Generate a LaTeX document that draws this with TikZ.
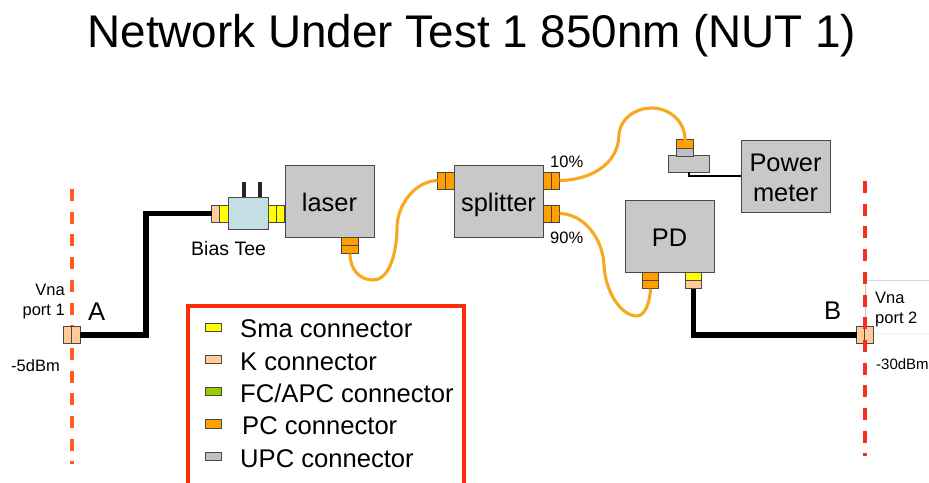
\documentclass[tikz,border=0pt]{standalone}
\usepackage{fontspec}
\setmainfont{Liberation Sans}
\definecolor{smacol}{HTML}{FFFF00}
\definecolor{kcol}{HTML}{FFCC99}
\definecolor{fccol}{HTML}{99CC00}
\definecolor{pccol}{HTML}{FFA000}
\definecolor{upccol}{HTML}{C0C0C0}
\definecolor{boxcol}{HTML}{C8C8C8}
\definecolor{teecol}{HTML}{C4DFE3}
\definecolor{edgecol}{HTML}{484848}
\definecolor{fibercol}{HTML}{F8A81C}
\definecolor{planeacol}{HTML}{FF5A26}
\definecolor{planebcol}{HTML}{F5301E}
\definecolor{framecol}{HTML}{FF2C08}
\tikzset{
    box/.style={draw=edgecol, line width=1pt, fill=boxcol, inner sep=0pt, outer sep=0pt, minimum width=89pt, minimum height=72pt, font=\fontsize{25.4}{30}\selectfont, align=center},
    onetext/.style={text height=20pt, text depth=0pt},
    hside/.style={draw=edgecol, line width=1pt, inner sep=0pt, outer sep=0pt, minimum width=8.3pt, minimum height=17pt},
    vside/.style={draw=edgecol, line width=1pt, inner sep=0pt, outer sep=0pt, minimum width=16.5pt, minimum height=8.3pt},
    swatch/.style={draw=edgecol, line width=1pt, inner sep=0pt, outer sep=0pt, minimum width=16pt, minimum height=8.5pt},
    coax/.style={line width=5.5pt, black},
    fiber/.style={line width=3.1pt, fibercol},
    plane/.style={line width=3.4pt, dash pattern=on 12pt off 10.7pt},
    small/.style={font=\fontsize{16.5}{20}\selectfont, inner sep=0pt, anchor=base west},
    big/.style={font=\fontsize{25.6}{30}\selectfont, inner sep=0pt, anchor=base west}
}
\begin{document}
\begin{tikzpicture}[x=1pt, y=-1pt]
    \useasboundingbox (0,0) rectangle (929,482);

    % Title
    \node[font=\fontsize{45.8}{50}\selectfont, inner sep=0pt, anchor=base] (title) at (472,47) {Network Under Test 1 850nm (NUT 1)};

    % Faint lines at port 2
    \draw[black!15] (865,280) -- (929,280);
    \draw[black!5] (865,333) -- (929,333);
    \draw[black!25] (865,280) -- (865,333);

    % Boxes
    \node[box, onetext] (laser) at (329.5,201) {laser};
    \node[box, onetext] (splitter) at (498.5,201) {splitter};
    \node[box, onetext] (pd) at (669.5,236) {PD};
    \node[box] (meter) at (785.5,176) {\rule{0pt}{21pt}Power\\meter};
    \node[draw=edgecol, line width=1pt, fill=teecol, inner sep=0pt, outer sep=0pt, minimum width=40pt, minimum height=32pt] (tee) at (248,213) {};

    % Bias leads
    \coordinate (leada) at (244,182);
    \coordinate (leadb) at (260,182);
    \draw[line width=3.2pt, black!85] (leada) -- (leada |- tee.north);
    \draw[line width=3.2pt, black!85] (leadb) -- (leadb |- tee.north);

    % Connectors
    \node[hside, fill=smacol] (teesma) at (224,213.5) {};
    \node[hside, fill=kcol] (teek) at (215.7,213.5) {};
    \node[hside, fill=smacol] (teeout) at (272.2,213.5) {};
    \node[hside, fill=smacol] (laserin) at (280.5,213.5) {};
    \node[vside, fill=pccol] (laserpca) at (350,241.2) {};
    \node[vside, fill=pccol] (laserpcb) at (350,249.4) {};
    \node[hside, fill=pccol] (splitina) at (449.9,180.5) {};
    \node[hside, fill=pccol] (splitinb) at (441.7,180.5) {};
    \node[hside, fill=pccol] (tena) at (547.2,180.5) {};
    \node[hside, fill=pccol] (tenb) at (555.4,180.5) {};
    \node[hside, fill=pccol] (ninea) at (547.2,213.5) {};
    \node[hside, fill=pccol] (nineb) at (555.4,213.5) {};
    \node[vside, fill=pccol] (pdpca) at (650.5,276.2) {};
    \node[vside, fill=pccol] (pdpcb) at (650.5,284.6) {};
    \node[vside, fill=smacol] (pdsma) at (693.5,276.2) {};
    \node[vside, fill=kcol] (pdk) at (693.5,284.6) {};

    % Sensor in front of the meter
    \node[draw=edgecol, line width=1pt, fill=boxcol, inner sep=0pt, outer sep=0pt, minimum width=41pt, minimum height=16.5pt] (sensor) at (689,164) {};
    \node[vside, fill=upccol] (sensorupc) at (685,152) {};
    \node[vside, fill=pccol] (sensorpc) at (685,144) {};
    \draw[line width=1.3pt, black] (sensor.south) |- (meter.west |- 0,176);

    % Port 2, then planes, then port 1
    \node[hside, fill=kcol] (portba) at (861,335) {};
    \node[hside, fill=kcol] (portbb) at (869,335) {};
    \coordinate (planeatop) at (72,189);
    \coordinate (planeabot) at (72,464);
    \coordinate (planebtop) at (865,181);
    \coordinate (planebbot) at (865,456);
    \draw[plane, planeacol] (planeatop) -- (planeabot);
    \draw[plane, planebcol] (planebtop) -- (planebbot);
    \node[hside, fill=kcol] (portaa) at (68,335) {};
    \node[hside, fill=kcol] (portab) at (76,335) {};

    % Cables
    \draw[coax] (portab.east) -- (146,335) |- (teek.west);
    \draw[coax] (pdk.south) |- (portba.west);

    % Fibers
    \draw[fiber] (laserpcb.south) .. controls (350,270) and (360,280) .. (373,280) .. controls (392,280) and (397,245) .. (397,228) .. controls (397,205) and (415,181) .. (splitinb.west);
    \draw[fiber] (tenb.east) .. controls (590,180) and (618,165) .. (619,135) .. controls (620,118) and (636,108) .. (652,108) .. controls (668,108) and (685,120) .. (sensorpc.north);
    \draw[fiber] (nineb.east) .. controls (585,214) and (603,240) .. (604,265) .. controls (605,290) and (620,316) .. (637,316) .. controls (645,316) and (650,302) .. (pdpcb.south);

    % Labels
    \node[font=\fontsize{19.5}{22}\selectfont, inner sep=0pt, anchor=base west] (biastee) at (191,255) {Bias Tee};
    \node[small, anchor=base east] (vnaa) at (65,295) {Vna};
    \node[small, anchor=base east] (porta) at (65,315) {port 1};
    \node[small] (dbma) at (11,371) {-5dBm};
    \node[big] (nodea) at (88,320) {A};
    \node[big] (nodeb) at (824,319) {B};
    \node[small] (vnab) at (875,303) {Vna};
    \node[small] (portb) at (875,323) {port 2};
    \node[small, font=\fontsize{15}{20}\selectfont] (dbmb) at (876,369) {-30dBm};
    \node[small] (ten) at (550,167) {10\%};
    \node[small] (ninety) at (550,243) {90\%};

    % Legend
    \node[draw=framecol, line width=4pt, minimum width=276pt, minimum height=184pt, inner sep=0pt] (legend) at (326,398) {};
    \node[swatch, fill=smacol] (keysma) at (213,327.5) {};
    \node[swatch, fill=kcol] (keyk) at (213,359.5) {};
    \node[swatch, fill=fccol] (keyfc) at (213,391.5) {};
    \node[swatch, fill=pccol] (keypc) at (213,424) {};
    \node[swatch, fill=upccol] (keyupc) at (213,456.5) {};
    \node[big] (textsma) at (240,337) {Sma connector};
    \node[big] (textk) at (240,370) {K connector};
    \node[big] (textfc) at (240,402) {FC/APC connector};
    \node[big] (textpc) at (242,434) {PC connector};
    \node[big] (textupc) at (240,467) {UPC connector};
\end{tikzpicture}
\end{document}
